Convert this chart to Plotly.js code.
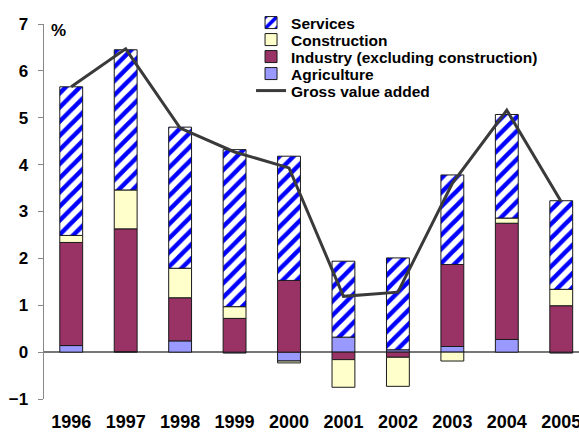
<!DOCTYPE html>
<html>
<head>
<meta charset="utf-8">
<script src="https://cdn.plot.ly/plotly-3.0.1.min.js"></script>
<style>
  html, body { margin: 0; padding: 0; background: #fff; }
  #chart { width: 579px; height: 432px; }
</style>
</head>
<body>
<div id="chart"></div>
<script>
// Contributions to growth of gross value added, percentage points
const years = ['1996', '1997', '1998', '1999', '2000', '2001', '2002', '2003', '2004', '2005'];
const agriculture  = [0.14, 0.01, 0.24, -0.02, -0.19, 0.32, 0.05, 0.12, 0.27, -0.02];
const industry     = [2.20, 2.62, 0.92, 0.72, 1.53, -0.16, -0.11, 1.75, 2.48, 0.99];
const construction = [0.15, 0.83, 0.63, 0.25, -0.04, -0.59, -0.62, -0.19, 0.11, 0.35];
const services     = [3.17, 2.99, 3.01, 3.35, 2.65, 1.62, 1.96, 1.91, 2.21, 1.89];
const grossValueAdded = [5.66, 6.47, 4.78, 4.27, 3.93, 1.19, 1.28, 3.60, 5.16, 3.21];

const FONT = 'Liberation Sans, Arial, Helvetica, sans-serif';
const outline = { color: '#1a1a1a', width: 1 };

const traces = [
  {
    type: 'bar', name: 'Agriculture', x: years, y: agriculture,
    marker: { color: '#9999FF', line: outline }, legend: 'legend4'
  },
  {
    type: 'bar', name: 'Industry (excluding construction)', x: years, y: industry,
    marker: { color: '#993366', line: outline }, legend: 'legend3'
  },
  {
    type: 'bar', name: 'Construction', x: years, y: construction,
    marker: { color: '#FFFFCC', line: outline }, legend: 'legend2'
  },
  {
    type: 'bar', name: 'Services', x: years, y: services,
    marker: {
      color: '#FFFFFF', line: outline,
      pattern: { shape: '/', fgcolor: '#0000FF', bgcolor: '#FFFFFF', size: 10, solidity: 0.45 }
    },
    legend: 'legend'
  },
  {
    type: 'scatter', mode: 'lines', name: 'Gross value added', x: years, y: grossValueAdded,
    line: { color: '#3a3a3a', width: 3 }, legend: 'legend5'
  }
];

// category range, the last column runs past the right edge
const xRange = [-0.5, 9.326];

// boundary ticks crossing the zero line (one axis draws downward, one upward)
const boundaryTicks = (dir) => ({
  overlaying: 'x', anchor: 'free', position: 0.125, type: 'linear',
  range: xRange, tick0: -0.5, dtick: 1, ticks: dir, ticklen: 6,
  tickcolor: '#555', tickwidth: 1, showticklabels: false,
  showgrid: false, zeroline: false, showline: false, fixedrange: true
});

// one legend per entry keeps the rows tightly stacked
const legendRow = (y) => ({
  x: 0.387, y: y, xanchor: 'left', yanchor: 'middle',
  bgcolor: 'rgba(0,0,0,0)', borderwidth: 0,
  font: { family: FONT, size: 15.5, color: '#000', weight: 'bold' },
  itemwidth: 30
});

const layout = {
  width: 579, height: 432,
  margin: { l: 44, r: 0, t: 24, b: 33 },
  paper_bgcolor: '#FFFFFF', plot_bgcolor: '#FFFFFF',
  barmode: 'relative', bargap: 0.58,
  showlegend: true,
  legend: legendRow(1.0027),
  legend2: legendRow(0.9573),
  legend3: legendRow(0.912),
  legend4: legendRow(0.8667),
  legend5: legendRow(0.8213),
  xaxis: {
    type: 'category', range: xRange,
    showline: false, ticks: '', showgrid: false, zeroline: false,
    ticklabelstandoff: 10,
    tickfont: { family: FONT, size: 18, color: '#000', weight: 'bold' }
  },
  xaxis2: boundaryTicks('outside'),
  xaxis3: boundaryTicks('inside'),
  yaxis: {
    range: [-1, 7], dtick: 1, tick0: 0,
    showline: true, linecolor: '#888', linewidth: 1.5,
    ticks: 'outside', ticklen: 5, tickcolor: '#888',
    ticklabelstandoff: 6,
    showgrid: false, zeroline: true, zerolinecolor: '#777', zerolinewidth: 1.5,
    tickfont: { family: FONT, size: 17, color: '#000', weight: 'bold' }
  },
  annotations: [{
    text: '%', xref: 'paper', yref: 'paper', x: 0.0093, y: 1.013,
    xanchor: 'left', yanchor: 'top', showarrow: false,
    font: { family: FONT, size: 17, color: '#000', weight: 'bold' }
  }]
};

Plotly.newPlot('chart', traces, layout, { displayModeBar: false, staticPlot: true });
</script>
</body>
</html>
